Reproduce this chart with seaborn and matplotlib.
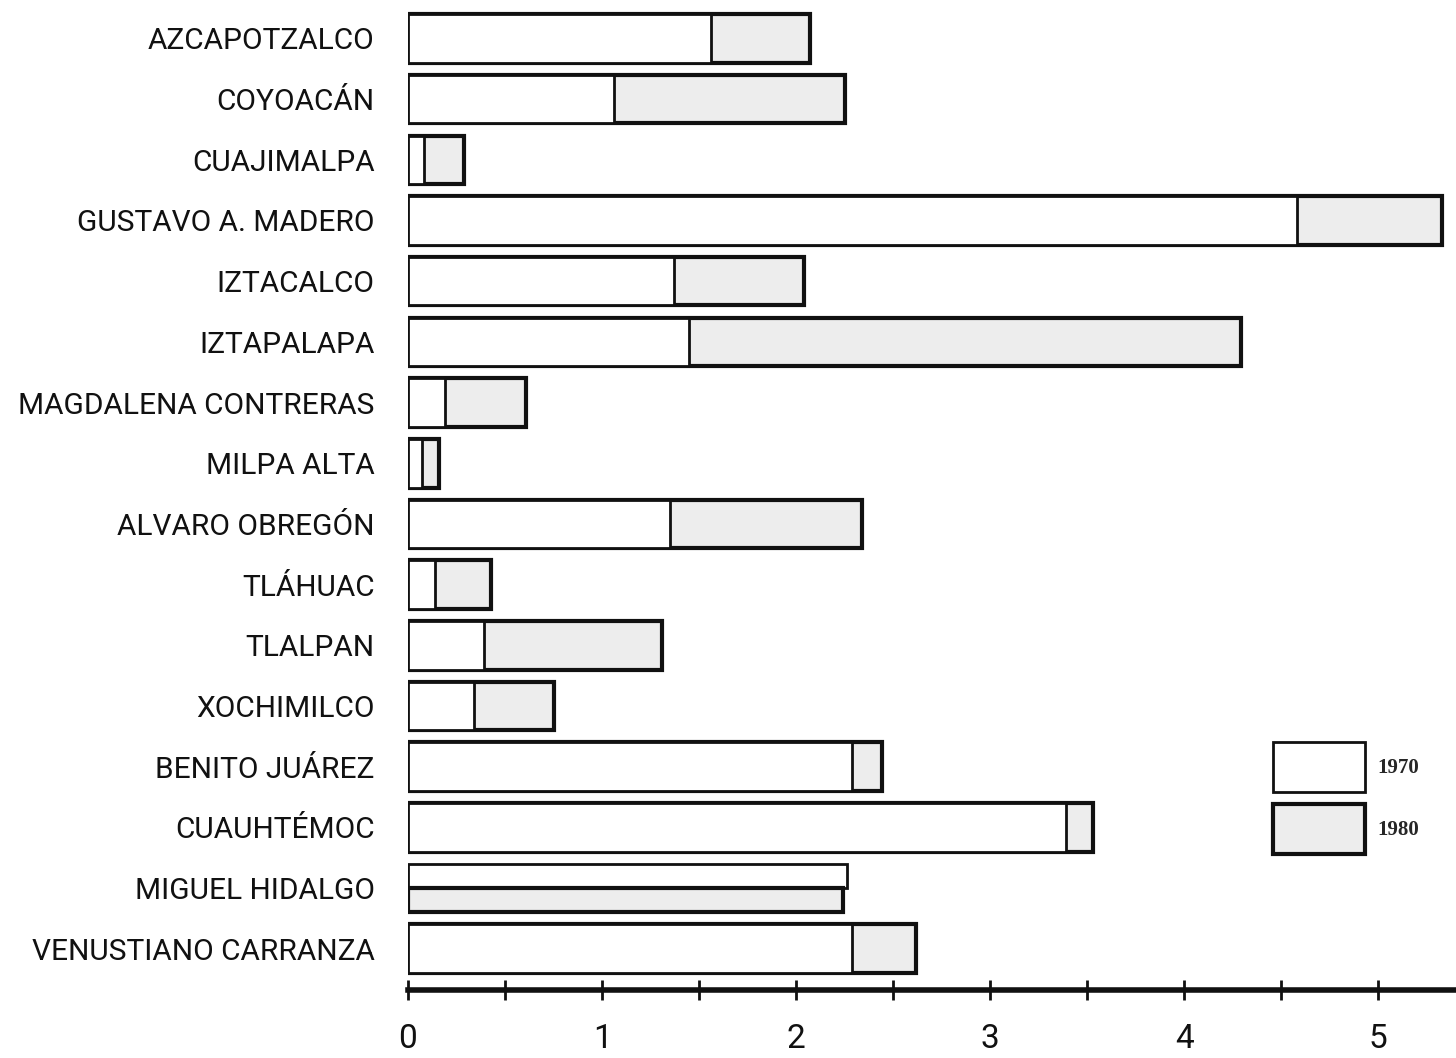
import matplotlib
matplotlib.use("Agg")
import matplotlib.pyplot as plt
import matplotlib.patches as mpatches
import numpy as np
import pandas as pd
import seaborn as sns

# Delegaciones del Distrito Federal
delegaciones = [
    "Azcapotzalco", "Coyoacán", "Cuajimalpa", "Gustavo A. Madero",
    "Iztacalco", "Iztapalapa", "Magdalena Contreras", "Milpa Alta",
    "Alvaro Obregón", "Tláhuac", "Tlalpan", "Xochimilco",
    "Benito Juárez", "Cuauhtémoc", "Miguel Hidalgo", "Venustiano Carranza",
]
valores_1970 = [1.56, 1.06, 0.08, 4.58, 1.37, 1.45, 0.19, 0.07,
                1.35, 0.14, 0.39, 0.34, 2.29, 3.39, 2.26, 2.29]
valores_1980 = [2.07, 2.25, 0.29, 5.33, 2.04, 4.29, 0.61, 0.16,
                2.34, 0.43, 1.31, 0.75, 2.44, 3.53, 2.24, 2.62]
etiquetas_x = ["0", "1", "2", "3", "4", "5"]
anios = ["1970", "1980"]

nombres = [d.upper() for d in delegaciones]
df = pd.DataFrame({"delegacion": nombres, "v1970": valores_1970, "v1980": valores_1980})

sns.set_theme(style="white")
fuente_nombres = ["Roboto", "DejaVu Sans"]
plt.rcParams["font.family"] = fuente_nombres

fig = plt.figure(figsize=(14.56, 10.58), dpi=100)
ax = fig.add_axes([408 / 1456, 1 - 990 / 1058, 1 - 408 / 1456, 988 / 1058])

color_1980 = "#ededed"
sns.barplot(data=df, x="v1980", y="delegacion", orient="h", ax=ax,
            color=color_1980, edgecolor="#111111", linewidth=3.0,
            saturation=1, width=0.8)
sns.barplot(data=df, x="v1970", y="delegacion", orient="h", ax=ax,
            color="white", edgecolor="#111111", linewidth=2.0,
            saturation=1, width=0.8)

n = len(nombres)
# where the 1980 figure does not exceed 1970, show both as half-height bars
for i, (a, b) in enumerate(zip(valores_1970, valores_1980)):
    if b <= a:
        p80 = ax.patches[i]
        p70 = ax.patches[n + i]
        p70.set_y(i - 0.4)
        p70.set_height(0.4)
        p80.set_y(i)
        p80.set_height(0.4)
        p80.set_zorder(p70.get_zorder() + 1)

ax.set_xlim(0, 5.40)
ax.set_ylim(n - 1 + 0.68, -0.6)
ax.set_xlabel("")
ax.set_ylabel("")

for s in ["top", "right", "left"]:
    ax.spines[s].set_visible(False)
ax.spines["bottom"].set_linewidth(4)
ax.spines["bottom"].set_color("#111111")

ax.set_xticks(np.arange(0, 5.5, 0.5))
ax.set_xticklabels([etiquetas_x[k // 2] if k % 2 == 0 else "" for k in range(11)])
ax.tick_params(axis="x", direction="inout", length=14, width=2,
               colors="#111111", labelsize=24, pad=17, bottom=True)
ax.tick_params(axis="y", length=0, labelsize=21.5, pad=24, labelcolor="#111111")
for t in ax.get_yticklabels():
    t.set_family(fuente_nombres)

# legend boxes
h70 = mpatches.Patch(facecolor="white", edgecolor="#111111", linewidth=2.0)
h80 = mpatches.Patch(facecolor=color_1980, edgecolor="#111111", linewidth=3.0)
fig.legend([h70, h80], anios, loc="upper left",
           bbox_to_anchor=(1273 / 1456, 1 - 742 / 1058),
           frameon=False, borderpad=0, borderaxespad=0,
           handlelength=4.4, handleheight=3.3, handletextpad=0.6,
           labelspacing=0.6,
           prop={"family": ["Liberation Serif", "DejaVu Serif"],
                 "weight": "bold", "size": 15})

fig.savefig("out.png", dpi=100, facecolor="white")
